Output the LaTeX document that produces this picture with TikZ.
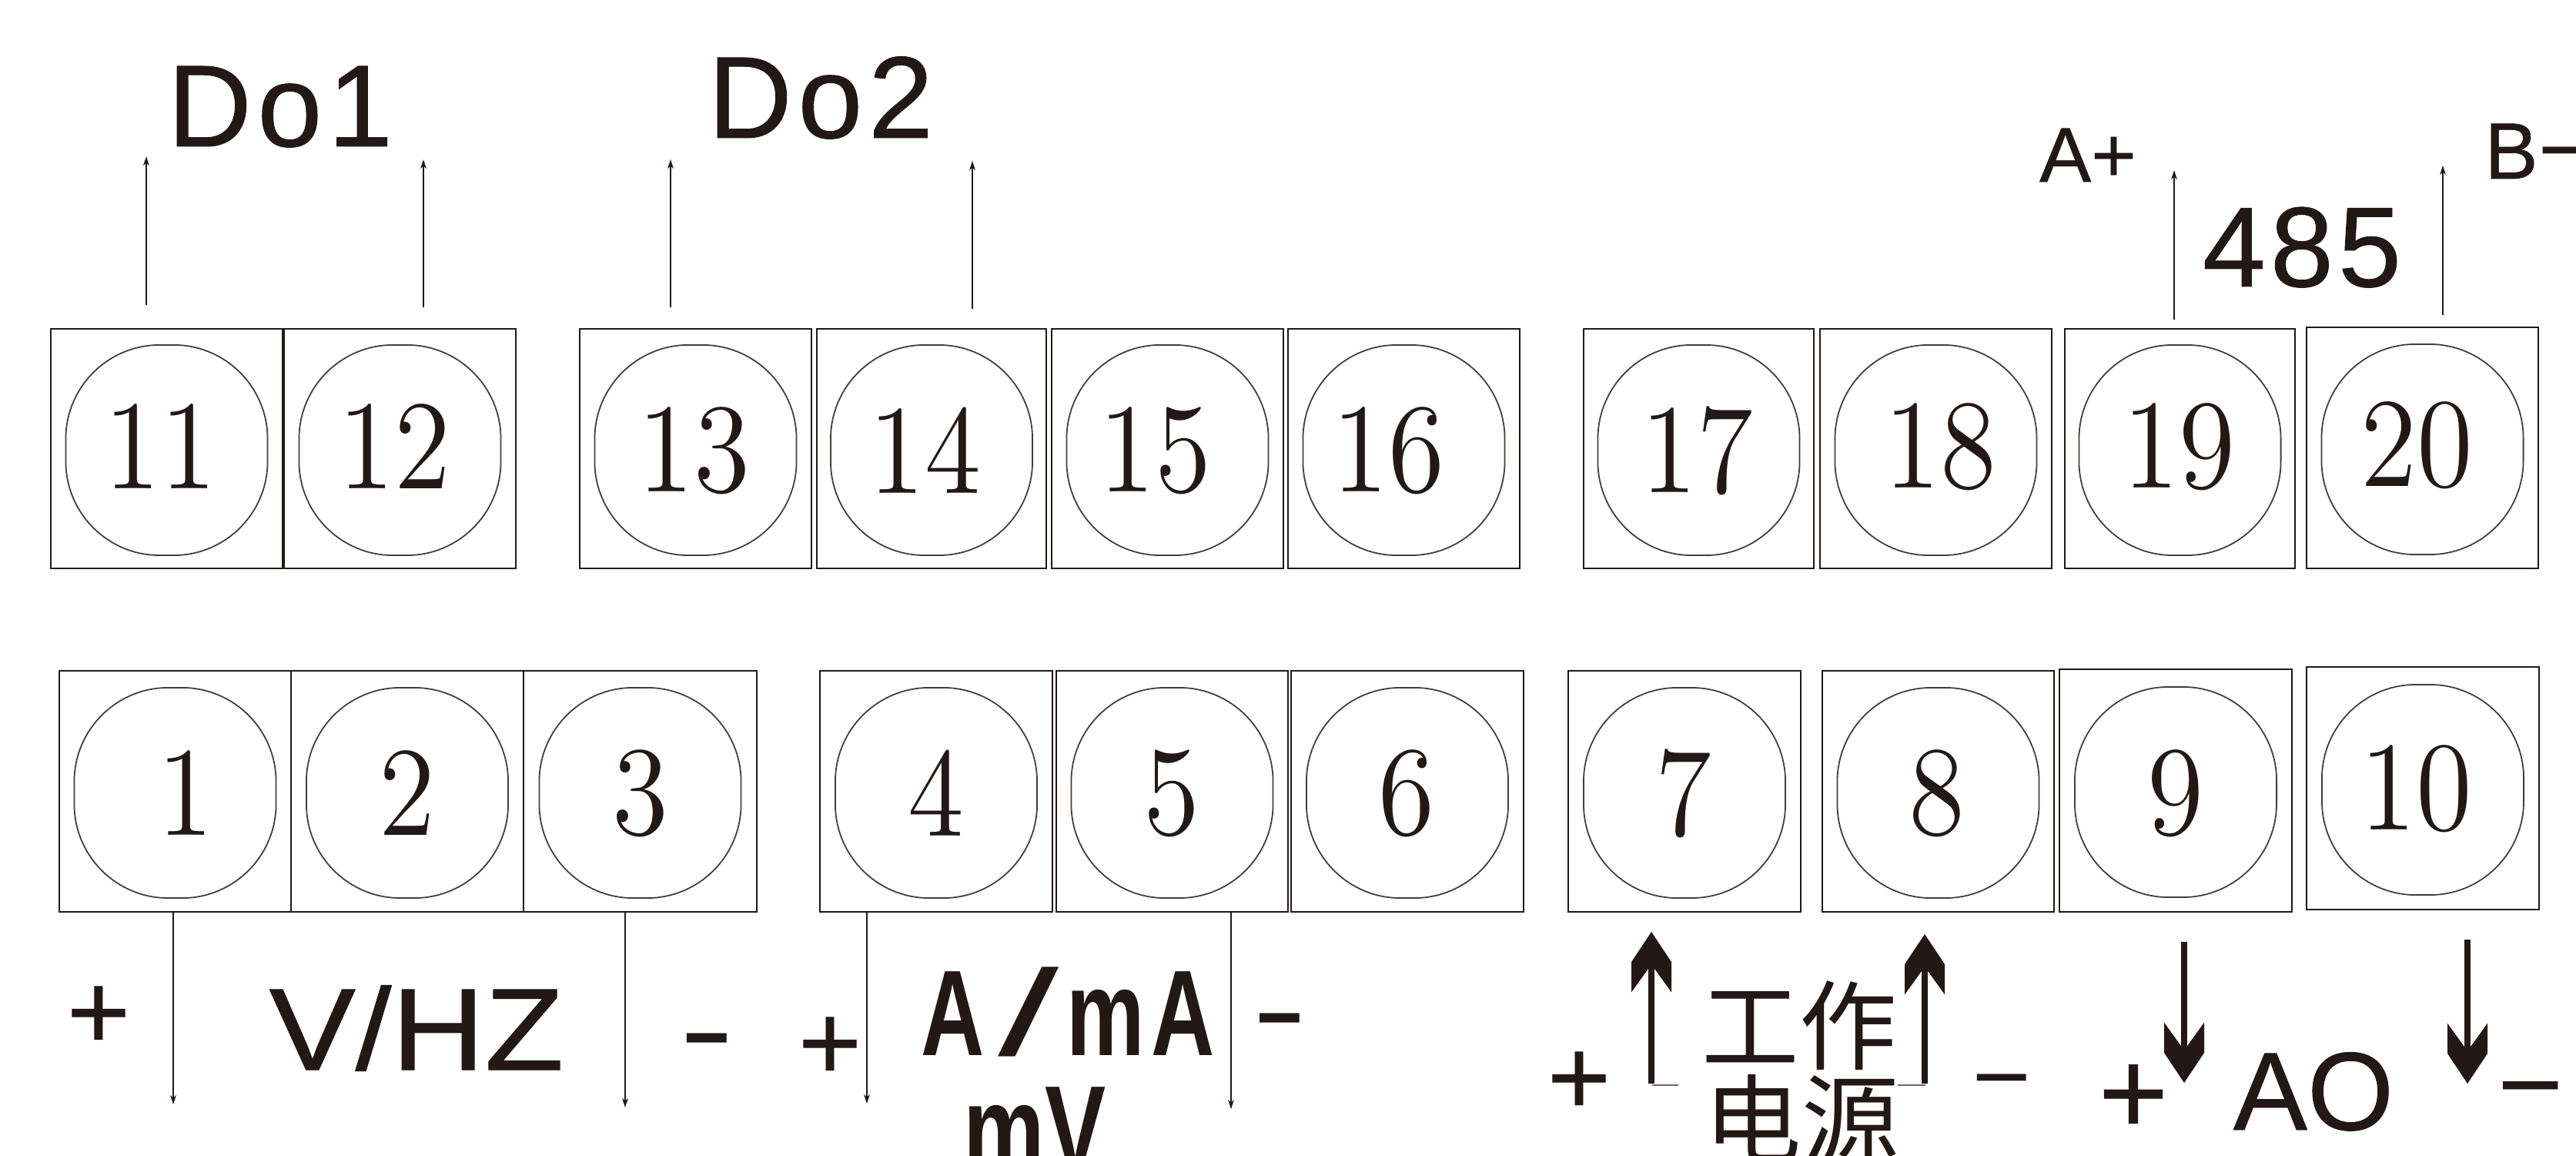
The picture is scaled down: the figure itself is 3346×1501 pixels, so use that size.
\documentclass[tikz,border=0pt]{standalone}
\usepackage{fontspec}
\setsansfont{Liberation Sans}
\newfontfamily\cjk{Noto Sans CJK SC}
\newfontfamily\slashfont{Liberation Sans}
\newfontfamily\numfont{Latin Modern Roman}[OpticalSize=12]
\usetikzlibrary{arrows.meta}
\definecolor{ink}{HTML}{231815}
\tikzset{
  boxnode/.style={draw=ink,line width=0.7pt,inner sep=0pt,rectangle},
  ringnode/.style={draw=ink!85,line width=0.5pt,inner sep=0pt,rectangle,rounded corners=1.22cm,minimum width=2.62cm,minimum height=2.73cm},
  numnode/.style={inner sep=0pt,text=ink},
  labnode/.style={inner sep=0pt,anchor=base,text=ink},
  thinarrow/.style={draw=ink,line width=0.45pt,-{Stealth[length=3.4pt,width=2.2pt,inset=1pt]}},
  fatarrow/.style={draw=ink,line width=2.3pt,-{Stealth[length=0.78cm,width=0.52cm,inset=0.36cm]}},
  tickline/.style={draw=ink!65,line width=0.6pt}
}
% id, x0, y0, x1, y1, number, number centre x, number centre y
\newcommand\term[8]{%
  \node[boxnode,minimum width={(#4-#2)*0.01cm},minimum height={(#5-#3)*0.01cm}] (box#1) at ({(#2+#4)/2},{(#3+#5)/2}) {};
  \node[ringnode] (ring#1) at ({(#2+#4)/2},{(#3+#5)/2+2}) {};
  \node[numnode] (num#1) at (#7,#8) {\numfont\fontsize{47}{50}\selectfont\scalebox{0.9}[1]{#6}};
}
% name, x, baseline y, size, x scale, text
\newcommand\lab[6]{%
  \node[labnode] (#1) at (#2,#3) {\fontsize{#4}{#4}\selectfont\scalebox{#5}[1]{#6}};
}
\newcommand\uphead[1]{\fill[ink,shift={(#1)}] (0,0) -- (-26,39) -- (-26,78) -- (0,42) -- (26,78) -- (26,39) -- cycle;}
\newcommand\downhead[1]{\fill[ink,shift={(#1)},yscale=-1] (0,0) -- (-26,39) -- (-26,78) -- (0,42) -- (26,78) -- (26,39) -- cycle;}
\begin{document}
\begin{tikzpicture}[x=0.01cm,y=-0.01cm]
\useasboundingbox (0,0) rectangle (3346,1501);
\clip (0,0) rectangle (3346,1501);
\fill[white] (0,0) rectangle (3346,1501);
% top row
\term{11}{66}{427}{367}{738}{11}{208}{580}
\term{12}{369}{427}{670}{738}{12}{512}{580}
\term{13}{753}{427}{1054}{738}{13}{901}{585}
\term{14}{1061}{427}{1359}{738}{14}{1201}{585}
\term{15}{1366}{427}{1667}{738}{15}{1500}{585}
\term{16}{1673}{427}{1974}{738}{16}{1803}{585}
\term{17}{2057}{427}{2356}{738}{17}{2204}{585}
\term{18}{2364}{427}{2665}{738}{18}{2520}{580}
\term{19}{2682}{427}{2981}{738}{19}{2830}{580}
\term{20}{2996}{425}{3297}{738}{20}{3139}{578}
% bottom row
\term{1}{77}{871}{378}{1184}{1}{241}{1030}
\term{2}{378}{871}{680}{1184}{2}{529}{1030}
\term{3}{680}{871}{983}{1184}{3}{832}{1030}
\term{4}{1065}{871}{1367}{1184}{4}{1216}{1030}
\term{5}{1372}{871}{1673}{1184}{5}{1522}{1030}
\term{6}{1677}{871}{1979}{1184}{6}{1827}{1030}
\term{7}{2037}{871}{2339}{1184}{7}{2187}{1030}
\term{8}{2367}{871}{2668}{1184}{8}{2516}{1030}
\term{9}{2675}{869}{2977}{1184}{9}{2826}{1030}
\term{10}{2996}{866}{3298}{1181}{10}{3138}{1024}
% thin arrow end points
\coordinate (a1s) at (190,396); \coordinate (a1e) at (190,203);
\coordinate (a2s) at (550,399); \coordinate (a2e) at (550,207);
\coordinate (a3s) at (871,399); \coordinate (a3e) at (871,207);
\coordinate (a4s) at (1263,401); \coordinate (a4e) at (1263,209);
\coordinate (a5s) at (2824,415); \coordinate (a5e) at (2824,221);
\coordinate (a6s) at (3173,409); \coordinate (a6e) at (3173,215);
\coordinate (b1s) at (225,1185); \coordinate (b1e) at (225,1434);
\coordinate (b2s) at (812,1185); \coordinate (b2e) at (812,1438);
\coordinate (b3s) at (1126,1185); \coordinate (b3e) at (1126,1433);
\coordinate (b4s) at (1599,1185); \coordinate (b4e) at (1599,1440);
\foreach \p in {a1,a2,a3,a4,a5,a6,b1,b2,b3,b4}{\draw[thinarrow] (\p s) -- (\p e);}
% thick arrows
\coordinate (c1s) at (2145,1407); \coordinate (c1e) at (2145,1210);
\coordinate (c2s) at (2500,1407); \coordinate (c2e) at (2500,1213);
\coordinate (c3s) at (2837,1223); \coordinate (c3e) at (2837,1406);
\coordinate (c4s) at (3205,1220); \coordinate (c4e) at (3205,1407);
\foreach \p in {c1,c2,c3,c4}{\draw[fatarrow] (\p s) -- (\p e);}
\uphead{c1e}\uphead{c2e}\downhead{c3e}\downhead{c4e}
\coordinate (t1) at (2146,1409); \coordinate (t1b) at (2180,1409);
\coordinate (t2) at (2465,1409); \coordinate (t2b) at (2501,1409);
\draw[tickline] (t1) -- (t1b);
\draw[tickline] (t2) -- (t2b);
% labels
\lab{do1}{364}{190}{43}{1}{\sffamily\addfontfeature{LetterSpace=5,FakeBold=0.6}Do1}
\lab{do2}{1066}{179}{43}{1}{\sffamily\addfontfeature{LetterSpace=5,FakeBold=0.6}Do2}
\lab{ap}{2712}{236}{28.6}{1}{\sffamily\addfontfeature{FakeBold=0.6}A+}
\lab{bm}{3262}{232}{29.5}{1}{\sffamily\addfontfeature{FakeBold=0.6}B}
\lab{bm2}{3331}{215}{21}{3}{\sffamily\bfseries -}
\lab{n485}{2990}{372}{42}{1}{\sffamily\addfontfeature{LetterSpace=4,FakeBold=0.6}485}
\lab{vhz}{541}{1389}{43}{1.11}{\sffamily\addfontfeature{FakeBold=0.8}V/HZ}
\lab{amA}{1387}{1370}{45}{0.72}{\sffamily\bfseries\addfontfeature{LetterSpace=8}A\hspace{7pt}{\scalebox{2.5}[1]{\slashfont\mdseries /}}\hspace{4pt}mA}
\lab{mv}{1344}{1520}{45}{0.75}{\sffamily\bfseries mV}
\lab{ao}{3005}{1467}{41}{1}{\sffamily\addfontfeature{FakeBold=0.6}AO}
\lab{gz}{2337}{1379}{36}{1}{\cjk 工作}
\lab{dy}{2340}{1501}{36}{1}{\cjk 电源}
% plus signs
\lab{p1}{128}{1362}{40}{1}{\sffamily\addfontfeature{FakeBold=0.6}+}
\lab{p2}{1078}{1402}{40}{1}{\sffamily\addfontfeature{FakeBold=0.6}+}
\lab{p3}{2051}{1447}{40}{1}{\sffamily\addfontfeature{FakeBold=0.6}+}
\lab{p4}{2771}{1472}{44}{1}{\sffamily\addfontfeature{FakeBold=0.6}+}
% minus signs
\lab{m1}{918}{1374}{29}{2}{\sffamily\bfseries -}
\lab{m2}{1662}{1348}{29}{2}{\sffamily\bfseries -}
\lab{m3}{2600}{1418}{21}{3.4}{\sffamily\bfseries -}
\lab{m4}{3287}{1432}{25}{3.2}{\sffamily\bfseries -}
\end{tikzpicture}
\end{document}
